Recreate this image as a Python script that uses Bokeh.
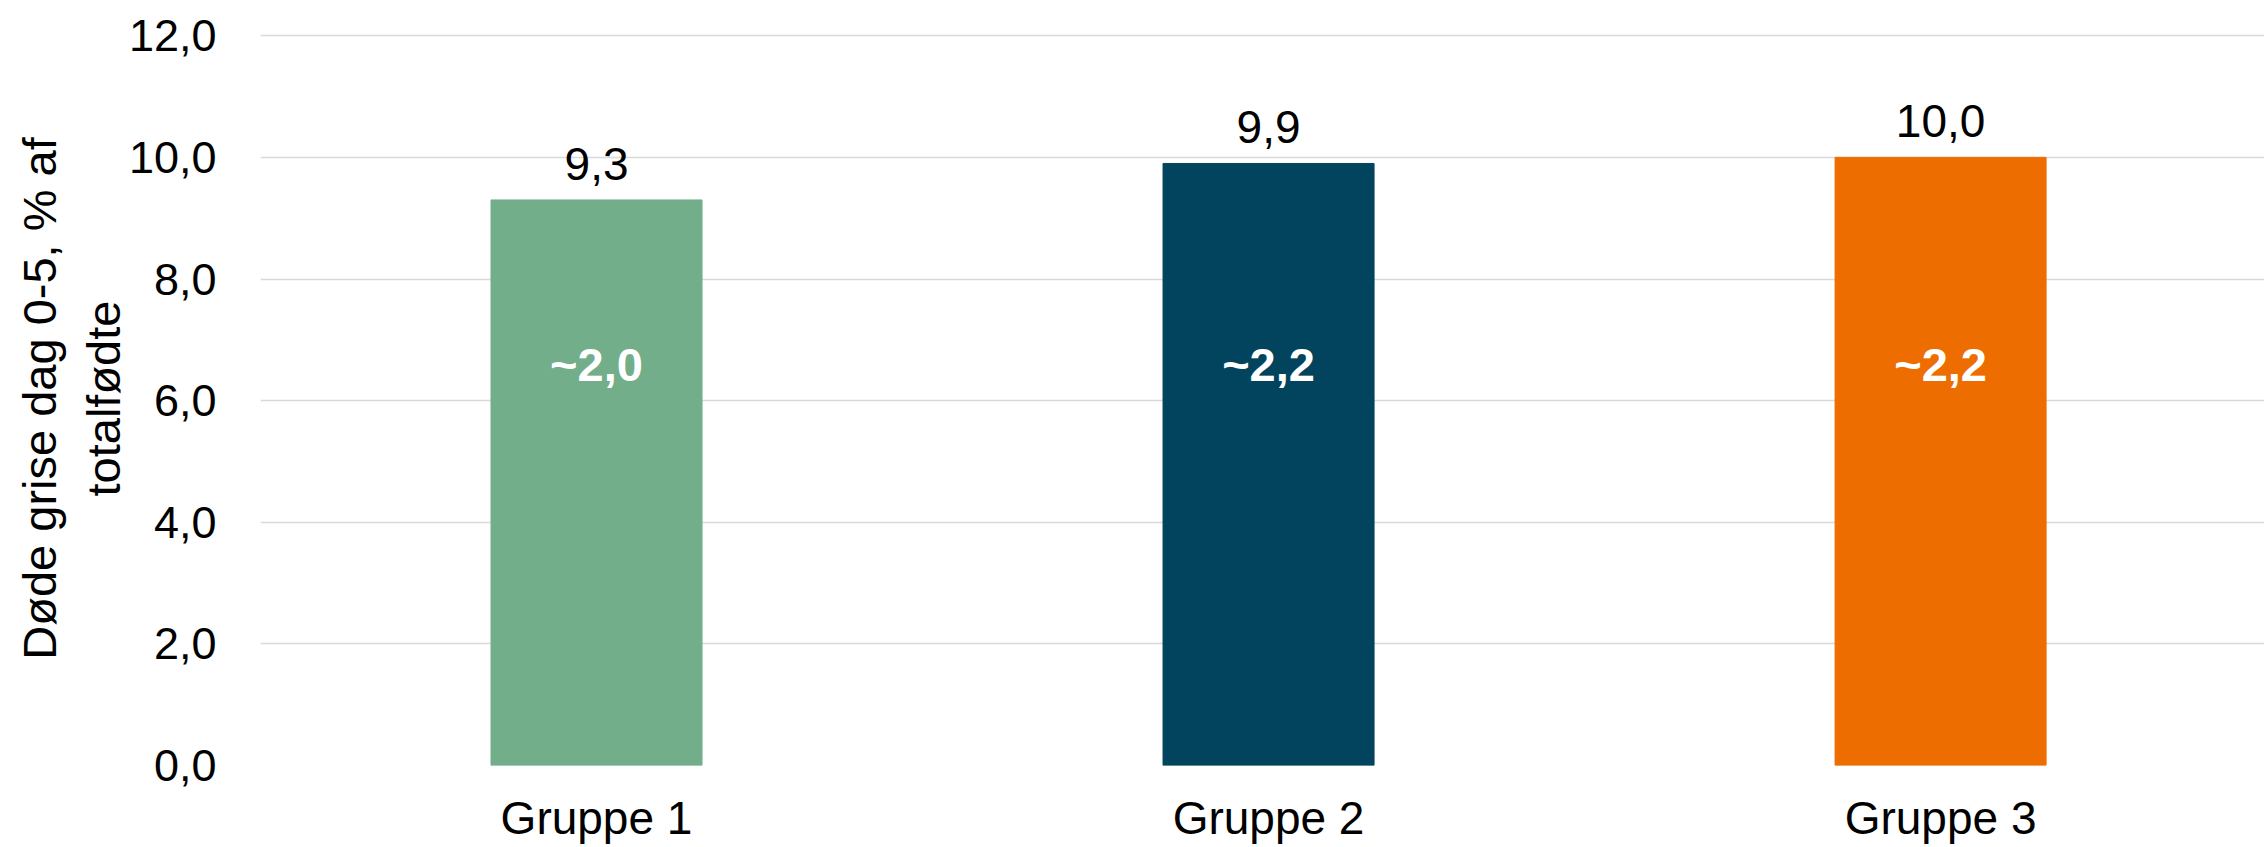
from bokeh.plotting import figure
from bokeh.models import ColumnDataSource, Range1d, FixedTicker
from bokeh.core.properties import value
from bokeh.embed import file_html
from bokeh.resources import INLINE

# Data
groups = ["Gruppe 1", "Gruppe 2", "Gruppe 3"]
values = [9.3, 9.9, 10.0]
value_labels = ["9,3", "9,9", "10,0"]
inner_labels = ["~2,0", "~2,2", "~2,2"]
colors = ["#72AE8A", "#02435E", "#EE6D00"]
y_ticks = [0, 2, 4, 6, 8, 10, 12]
y_tick_labels = ["0,0", "2,0", "4,0", "6,0", "8,0", "10,0", "12,0"]
y_title = "Døde grise dag 0-5, % af\ntotalfødte"

FONT = "Liberation Sans"
INNER_Y = 6.6

xs = list(range(len(groups)))
src = ColumnDataSource(dict(
    x=xs, top=values, lab=value_labels, inner=inner_labels, color=colors,
    iy=[INNER_Y] * len(groups),
))

p = figure(width=2264, height=847, output_backend="svg", toolbar_location=None,
           x_range=Range1d(-0.5, 2.482), y_range=Range1d(0, 12.07),
           min_border_left=260, min_border_right=0, min_border_top=31,
           min_border_bottom=82)
p.outline_line_color = None
p.background_fill_color = "white"
p.border_fill_color = "white"

p.vbar(x="x", top="top", bottom=0, width=0.314, color="color", source=src)

p.text(x="x", y="top", text="lab", source=src, text_align="center",
       text_baseline="bottom", y_offset=-20, text_font=value(FONT),
       text_font_size="46px", text_color="#000000")
p.text(x="x", y="iy", text="inner", source=src, text_align="center",
       text_baseline="middle", text_font=value(FONT), text_font_style="bold",
       text_font_size="47px", text_color="#FFFFFF")

# y axis
p.yaxis.ticker = FixedTicker(ticks=y_ticks)
p.yaxis.major_label_overrides = {t: l for t, l in zip(y_ticks, y_tick_labels)}
p.yaxis.axis_line_color = None
p.yaxis.major_tick_line_color = None
p.yaxis.minor_tick_line_color = None
p.yaxis.major_label_standoff = 38
p.yaxis.major_label_text_font = FONT
p.yaxis.major_label_text_font_size = "45px"
p.yaxis.major_label_text_color = "#000000"
p.yaxis.axis_label = y_title
p.yaxis.axis_label_text_font = FONT
p.yaxis.axis_label_text_font_size = "47px"
p.yaxis.axis_label_text_font_style = "normal"
p.yaxis.axis_label_text_color = "#000000"
p.yaxis.axis_label_standoff = -4

# x axis
p.xaxis.ticker = FixedTicker(ticks=xs)
p.xaxis.major_label_overrides = {x: g for x, g in zip(xs, groups)}
p.xaxis.axis_line_color = None
p.xaxis.major_tick_line_color = None
p.xaxis.minor_tick_line_color = None
p.xaxis.major_label_standoff = 20
p.xaxis.major_label_text_font = FONT
p.xaxis.major_label_text_font_size = "46px"
p.xaxis.major_label_text_color = "#000000"

p.xgrid.visible = False
p.ygrid.ticker = FixedTicker(ticks=y_ticks)
p.ygrid.grid_line_color = "#D9D9D9"
p.ygrid.grid_line_width = 1.5

open("out.html", "w").write(file_html(p, INLINE))
